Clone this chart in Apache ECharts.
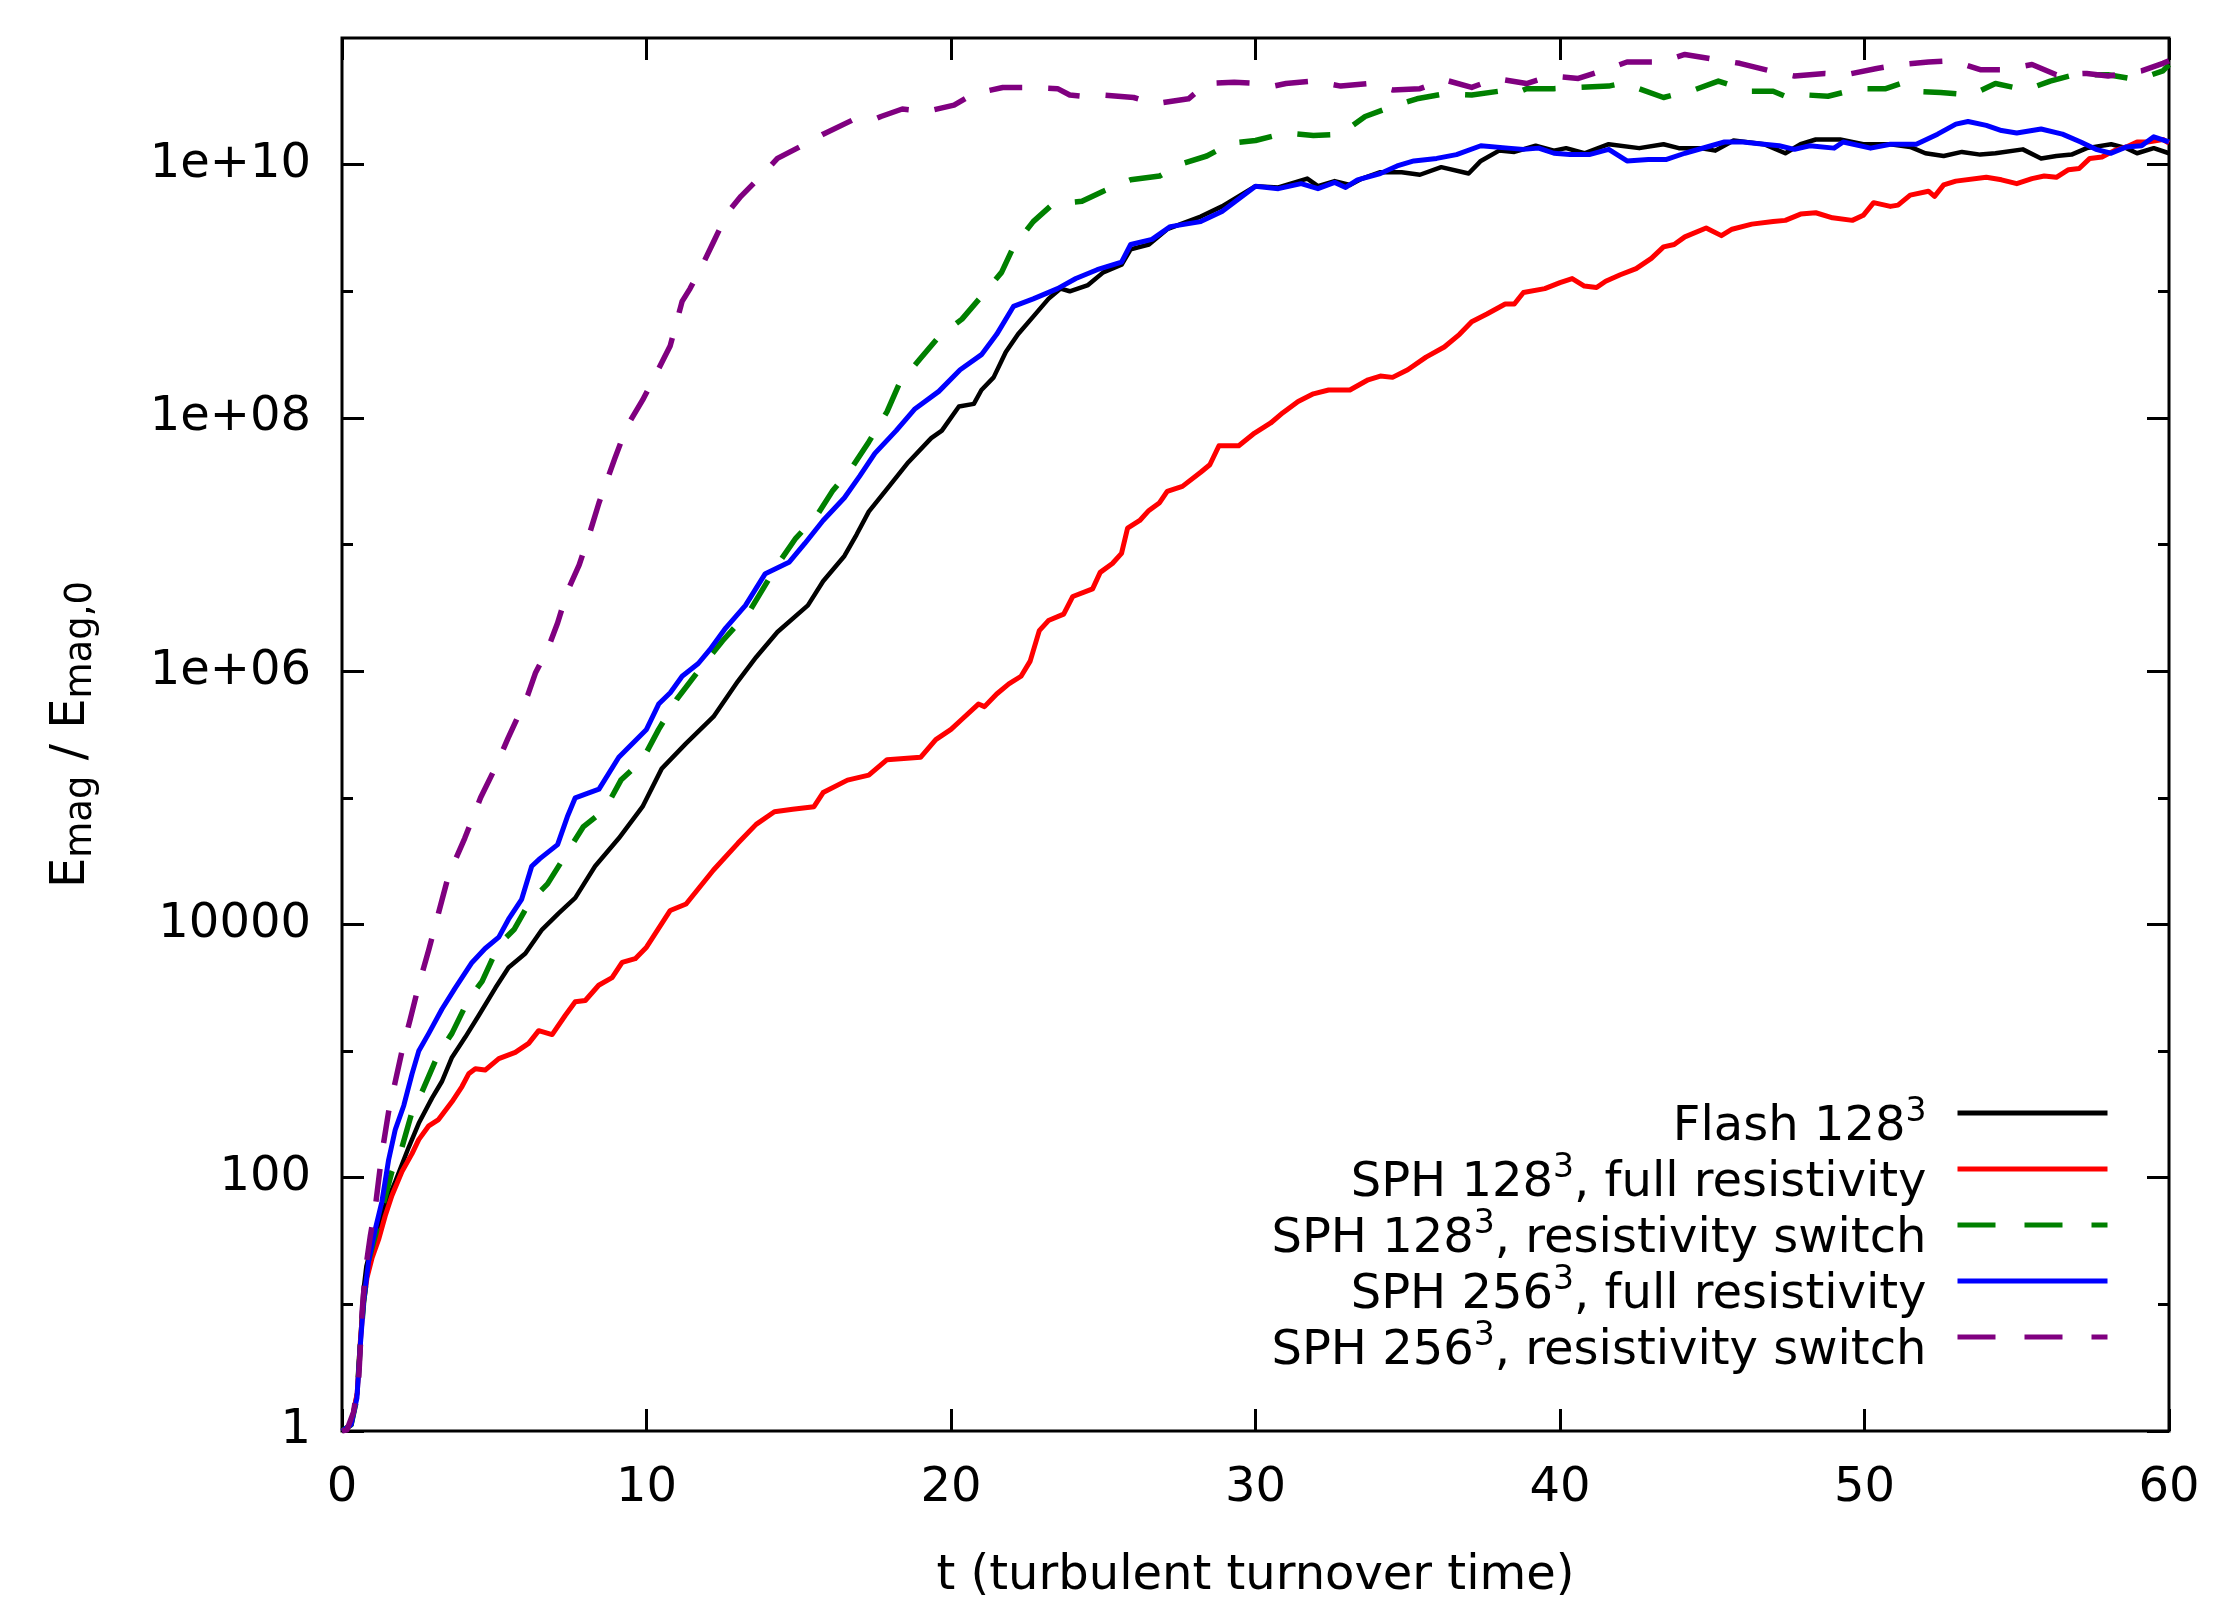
<!DOCTYPE html>
<html>
<head>
<meta charset="utf-8">
<script src="https://cdn.jsdelivr.net/npm/echarts@6/dist/echarts.min.js"></script>
<style>
html,body{margin:0;padding:0;background:#fff;}
#chart{width:2226px;height:1618px;}
</style>
</head>
<body>
<div id="chart"></div>
<script>
// ---------------- data ----------------
const seriesNames = ['Flash 128³', 'SPH 128³, full resistivity', 'SPH 128³, resistivity switch', 'SPH 256³, full resistivity', 'SPH 256³, resistivity switch'];
const seriesColors = ['#000000', '#ff0000', '#008000', '#0000ff', '#800080'];

const xTickValues = [0, 10, 20, 30, 40, 50, 60];
const xTickLabels = ['0', '10', '20', '30', '40', '50', '60'];
const yMajorValues = [1, 100, 1e4, 1e6, 1e8, 1e10];
const yMajorLabels = ['1', '100', '10000', '1e+06', '1e+08', '1e+10'];
const yMinorValues = [10, 1e3, 1e5, 1e7, 1e9];

const flashT = [0,0.3,0.5,0.6,0.7,0.8,0.99,1.42,1.75,2.19,2.52,2.96,3.28,3.61,4.05,4.49,5.04,5.47,6.02,6.57,7.12,7.66,8.31,9.09,9.87,10.5,11.3,12.2,13.0,13.6,14.3,15.3,15.8,16.5,16.9,17.3,17.9,18.6,19.35,19.7,20.26,20.75,21.0,21.4,21.8,22.2,22.7,23.2,23.6,23.9,24.5,25.0,25.6,25.9,26.5,27.1,28.2,28.9,30.0,30.75,31.7,32.05,32.6,33.1,33.5,34.1,34.8,35.4,36.1,37.0,37.4,38.0,38.5,39.2,39.8,40.2,40.8,41.6,42.6,43.4,43.9,44.6,45.1,45.7,46.7,47.4,47.9,48.4,49.2,49.96,50.85,51.5,52.0,52.6,53.2,53.8,54.3,55.2,55.8,56.3,56.8,57.3,58.1,58.6,58.95,59.5,60];
const flashV = [1,1.12,2.0,5.01,12.6,20.0,30.2,60.3,93.3,174,269,427,575,891,1290,1910,3160,4570,5890,9120,1.23e4,1.62e4,2.88e4,4.79e4,8.51e4,1.70e5,2.69e5,4.37e5,8.32e5,1.29e6,2.04e6,3.31e6,5.13e6,8.13e6,1.20e7,1.82e7,2.75e7,4.47e7,6.92e7,7.94e7,1.23e8,1.29e8,1.66e8,2.09e8,3.31e8,4.57e8,6.31e8,8.71e8,1.05e9,1.00e9,1.12e9,1.41e9,1.62e9,2.14e9,2.34e9,3.09e9,3.89e9,4.68e9,6.76e9,6.61e9,7.76e9,6.76e9,7.41e9,6.92e9,7.76e9,8.71e9,8.71e9,8.32e9,9.55e9,8.51e9,1.07e10,1.29e10,1.26e10,1.41e10,1.29e10,1.35e10,1.23e10,1.45e10,1.35e10,1.45e10,1.35e10,1.35e10,1.29e10,1.55e10,1.45e10,1.23e10,1.45e10,1.58e10,1.58e10,1.45e10,1.45e10,1.38e10,1.23e10,1.17e10,1.26e10,1.20e10,1.23e10,1.32e10,1.12e10,1.17e10,1.20e10,1.35e10,1.45e10,1.35e10,1.23e10,1.35e10,1.23e10];

const sph128FullT = [0,0.3,0.5,0.6,0.7,0.82,0.99,1.2,1.42,1.64,1.97,2.3,2.52,2.85,3.17,3.61,3.94,4.16,4.38,4.7,5.15,5.69,6.13,6.46,6.9,7.33,7.66,7.99,8.43,8.87,9.2,9.63,10.0,10.78,11.3,12.2,13.0,13.6,14.2,14.8,15.5,15.8,16.6,17.3,17.9,19.0,19.5,20.0,20.36,20.9,21.1,21.5,21.9,22.3,22.6,22.9,23.2,23.7,24.0,24.65,24.9,25.3,25.6,25.8,26.2,26.5,26.85,27.1,27.6,28.2,28.5,28.8,29.45,29.97,30.5,30.9,31.4,31.9,32.4,33.1,33.7,34.1,34.5,35.0,35.6,36.2,36.7,37.1,37.6,38.2,38.5,38.8,39.5,40.0,40.4,40.8,41.2,41.5,41.98,42.5,43.0,43.4,43.75,44.1,44.8,45.3,45.65,46.3,47.0,47.4,47.9,48.4,48.95,49.6,49.96,50.3,50.85,51.1,51.5,52.1,52.3,52.6,53.0,54.0,54.5,55.0,55.5,55.9,56.3,56.7,57.05,57.4,57.8,58.2,58.6,58.95,59.3,59.8,60];
const sph128FullV = [1,1.12,2.0,5.01,10,16.2,23.4,32.4,50.1,72.4,112,155,200,257,288,398,525,661,724,708,871,977,1150,1450,1350,1910,2450,2510,3310,3800,5010,5370,6610,1.29e4,1.45e4,2.69e4,4.37e4,6.17e4,7.76e4,8.13e4,8.51e4,1.10e5,1.38e5,1.51e5,2.00e5,2.09e5,2.88e5,3.47e5,4.17e5,5.50e5,5.25e5,6.61e5,7.94e5,9.12e5,1.20e6,2.09e6,2.51e6,2.82e6,3.89e6,4.47e6,6.03e6,7.08e6,8.51e6,1.35e7,1.55e7,1.86e7,2.14e7,2.63e7,2.88e7,3.72e7,4.27e7,6.03e7,6.03e7,7.59e7,9.12e7,1.10e8,1.35e8,1.55e8,1.66e8,1.66e8,2.00e8,2.14e8,2.09e8,2.40e8,3.02e8,3.63e8,4.57e8,5.75e8,6.61e8,7.94e8,7.94e8,9.77e8,1.05e9,1.17e9,1.26e9,1.10e9,1.07e9,1.20e9,1.35e9,1.51e9,1.82e9,2.24e9,2.34e9,2.69e9,3.16e9,2.75e9,3.09e9,3.39e9,3.55e9,3.63e9,4.07e9,4.17e9,3.80e9,3.63e9,3.98e9,5.01e9,4.68e9,4.79e9,5.75e9,6.17e9,5.62e9,6.92e9,7.41e9,7.94e9,7.59e9,7.08e9,7.76e9,8.13e9,7.94e9,9.12e9,9.33e9,1.12e10,1.15e10,1.29e10,1.38e10,1.51e10,1.51e10,1.58e10,1.48e10];

const sph128SwitchT = [0,0.3,0.49,0.6,0.71,0.88,1.1,1.31,1.64,1.97,2.3,2.63,3.17,3.61,4.16,4.6,5.15,5.65,6.17,6.75,7.4,7.92,8.64,9.16,9.87,10.4,11.0,11.7,12.5,13.4,14.3,14.9,15.6,16.1,16.75,17.3,17.9,18.3,18.96,19.6,20.36,21.0,21.66,22.05,22.7,23.35,24.3,25.0,25.9,26.85,27.6,28.4,29.2,30.0,31.0,31.9,32.8,33.6,34.5,35.3,36.2,37.1,38.0,38.5,38.9,39.8,40.6,41.6,42.0,42.6,43.4,44.4,45.2,46.2,47.0,47.5,48.1,48.8,49.8,50.7,51.2,51.6,52.5,53.5,54.3,55.3,56.1,56.9,58.0,58.95,59.8,60];
const sph128SwitchV = [1,1.12,1.82,4.68,10.5,22.4,35.5,56.2,112,174,331,479,955,1380,2570,3550,6920,9120,1.51e4,2.09e4,3.72e4,5.89e4,8.13e4,1.38e5,2.00e5,3.47e5,6.03e5,1.00e6,1.74e6,3.02e6,6.92e6,1.12e7,1.70e7,2.63e7,4.07e7,6.46e7,1.12e8,1.86e8,2.88e8,4.37e8,6.03e8,9.12e8,1.41e9,2.24e9,3.55e9,4.90e9,5.13e9,6.17e9,7.59e9,8.13e9,1.02e10,1.17e10,1.48e10,1.55e10,1.78e10,1.70e10,1.74e10,2.40e10,2.88e10,3.31e10,3.63e10,3.55e10,3.80e10,3.63e10,3.98e10,3.98e10,4.07e10,4.17e10,4.37e10,3.98e10,3.39e10,3.89e10,4.57e10,3.80e10,3.80e10,3.39e10,3.55e10,3.47e10,3.98e10,3.98e10,4.37e10,3.80e10,3.72e10,3.55e10,4.37e10,3.89e10,4.57e10,5.13e10,5.13e10,4.68e10,5.50e10,6.17e10];

const sph256FullT = [0,0.3,0.49,0.6,0.71,0.88,1.09,1.31,1.53,1.75,2.03,2.3,2.52,2.85,3.28,3.72,4.27,4.7,5.15,5.47,5.9,6.23,6.5,7.08,7.4,7.66,8.44,9.09,10.0,10.4,10.78,11.17,11.7,12.08,12.6,13.25,13.9,14.68,15.2,15.8,16.5,17.0,17.5,18.2,18.8,19.6,20.3,21.0,21.5,22.05,22.7,23.5,24.1,24.8,25.6,25.9,26.6,27.2,28.2,28.9,30.0,30.75,31.5,32.05,32.6,32.96,33.35,34.1,34.65,35.2,35.95,36.6,37.4,38.3,38.8,39.3,39.8,40.33,40.96,41.6,42.2,42.9,43.5,44.1,45.4,46.0,46.7,47.2,47.7,48.2,49.0,49.3,50.2,50.85,51.7,52.4,53.0,53.4,54.0,54.5,55.0,55.8,56.5,57.1,57.6,58.1,58.6,59.1,59.5,60];
const sph256FullV = [1,1.12,1.82,4.68,10.5,22.4,38.9,64.6,138,240,372,661,1000,1380,2140,3160,5010,6460,7940,1.10e4,1.58e4,2.88e4,3.31e4,4.27e4,7.08e4,1.00e5,1.17e5,2.09e5,3.47e5,5.50e5,6.76e5,9.12e5,1.15e6,1.48e6,2.19e6,3.31e6,5.89e6,7.24e6,1.02e7,1.55e7,2.34e7,3.47e7,5.25e7,7.94e7,1.17e8,1.62e8,2.40e8,3.16e8,4.57e8,7.59e8,8.71e8,1.05e9,1.26e9,1.48e9,1.70e9,2.34e9,2.57e9,3.24e9,3.55e9,4.27e9,6.76e9,6.46e9,7.08e9,6.46e9,7.24e9,6.61e9,7.59e9,8.51e9,9.77e9,1.07e10,1.12e10,1.20e10,1.41e10,1.35e10,1.32e10,1.35e10,1.23e10,1.20e10,1.20e10,1.32e10,1.07e10,1.10e10,1.10e10,1.23e10,1.51e10,1.51e10,1.45e10,1.41e10,1.32e10,1.41e10,1.35e10,1.51e10,1.35e10,1.45e10,1.45e10,1.74e10,2.09e10,2.19e10,2.04e10,1.86e10,1.78e10,1.91e10,1.74e10,1.51e10,1.32e10,1.23e10,1.38e10,1.41e10,1.66e10,1.51e10];

const sph256SwitchT = [0,0.16,0.38,0.55,0.66,0.77,0.93,1.1,1.31,1.53,1.75,1.97,2.24,2.52,2.85,3.17,3.5,4.03,4.55,5.06,5.45,6.1,6.36,6.75,7.08,7.4,7.79,8.12,8.44,8.96,9.35,9.87,10.26,10.78,11.17,11.43,11.82,12.2,12.66,13.1,13.8,14.3,15.2,15.8,16.75,17.4,17.7,18.4,19.2,20.1,20.75,21.7,22.6,23.5,23.9,24.3,25.0,26.0,26.7,27.8,28.4,29.3,30.1,30.6,31.0,31.9,32.8,33.7,34.5,35.4,36.2,37.1,37.9,38.9,39.7,40.6,41.5,42.2,43.3,44.1,45.1,45.9,46.9,47.7,48.7,49.4,50.4,51.2,52.1,52.9,53.8,54.6,55.5,56.3,57.3,58.0,59.1,59.8,60];
const sph256SwitchV = [1,1.02,1.41,2.63,8.71,18.6,34.7,60.3,155,331,575,1000,1780,3310,6310,1.23e4,2.45e4,4.79e4,1.00e5,1.78e5,2.95e5,6.46e5,9.77e5,1.48e6,2.40e6,4.27e6,6.92e6,1.20e7,2.14e7,4.79e7,8.51e7,1.38e8,2.09e8,3.72e8,8.32e8,1.05e9,1.58e9,2.45e9,4.17e9,5.62e9,8.32e9,1.12e10,1.45e10,1.74e10,2.24e10,2.24e10,2.40e10,2.75e10,2.63e10,2.95e10,3.63e10,4.07e10,4.07e10,3.98e10,3.55e10,3.47e10,3.55e10,3.39e10,3.02e10,3.31e10,4.37e10,4.47e10,4.37e10,4.17e10,4.37e10,4.57e10,4.17e10,4.37e10,3.89e10,3.98e10,4.68e10,4.07e10,4.79e10,4.37e10,5.01e10,4.79e10,5.62e10,6.46e10,6.46e10,7.41e10,6.76e10,6.31e10,5.50e10,5.01e10,5.25e10,5.13e10,5.75e10,6.17e10,6.46e10,6.61e10,5.62e10,5.62e10,6.17e10,5.13e10,5.25e10,5.01e10,5.50e10,6.31e10,6.61e10];

// ---------------- chart ----------------
const FONT = 'DejaVu Sans';
const tArrays = [flashT, sph128FullT, sph128SwitchT, sph256FullT, sph256SwitchT];
const vArrays = [flashV, sph128FullV, sph128SwitchV, sph256FullV, sph256SwitchV];
const dashed = [false, false, true, false, true];
const widths = [4.5, 5, 5.5, 5, 5.5];
const DASH = [33, 26];

function zip(t, v) {
  const n = Math.min(t.length, v.length);
  const out = [];
  for (let i = 0; i < n; i++) out.push([t[i], v[i]]);
  return out;
}

function yLabel(v) {
  for (let i = 0; i < yMajorValues.length; i++) {
    if (Math.abs(Math.log10(yMajorValues[i]) - Math.log10(v)) < 1e-6) return yMajorLabels[i];
  }
  return '';
}

const tickStyle = {color: '#000', width: 3};

function makeY(position, major, withLabel) {
  const ax = {
    type: 'log', logBase: 10, min: 1, max: 1e11, position: position, offset: 0,
    axisLine: {show: false},
    splitLine: {show: false},
    axisTick: {show: true, inside: true, length: major ? 22 : 11, lineStyle: tickStyle,
               customValues: major ? yMajorValues : yMinorValues},
    axisLabel: {show: withLabel}
  };
  if (withLabel) {
    ax.axisLabel = {show: true, customValues: yMajorValues, margin: 31, color: '#000',
      fontSize: 48, fontFamily: FONT, formatter: yLabel};
    ax.name = 'E{sub|mag} / E{sub|mag,0}';
    ax.nameLocation = 'middle';
    ax.nameGap = 242;
    ax.nameRotate = 90;
    ax.nameTextStyle = {
      color: '#000', fontFamily: FONT, fontSize: 48,
      rich: {
        sub: {fontSize: 37, fontFamily: FONT, color: '#000', verticalAlign: 'top', padding: [19, 0, 0, 0]},
      }
    };
  }
  return ax;
}

const series = seriesNames.map((name, i) => ({
  name: name,
  type: 'line',
  data: zip(tArrays[i], vArrays[i]),
  xAxisIndex: 0, yAxisIndex: 0,
  symbol: 'none', showSymbol: false,
  smooth: false,
  color: seriesColors[i],
  itemStyle: {color: seriesColors[i]},
  lineStyle: {color: seriesColors[i], width: widths[i], type: dashed[i] ? DASH : 'solid', cap: 'butt', join: 'round'},
  emphasis: {disabled: true},
  silent: true,
  z: 2 + i
}));

const legendData = seriesNames.map((name, i) => ({
  name: name,
  itemStyle: {opacity: 0, borderWidth: 0},
  lineStyle: {color: seriesColors[i], width: 5, type: dashed[i] ? [38, 29] : 'solid', cap: 'butt', opacity: 1}
}));

const chart = echarts.init(document.getElementById('chart'), null, {renderer: 'canvas', width: 2226, height: 1618});
chart.setOption({
  animation: false,
  backgroundColor: '#ffffff',
  grid: {left: 342, right: 57, top: 38, bottom: 187, show: true, borderColor: '#000', borderWidth: 3, backgroundColor: 'rgba(0,0,0,0)', containLabel: false},
  legend: {
    show: true,
    data: legendData,
    orient: 'vertical',
    right: 116, top: 1096,
    align: 'right',
    padding: 0,
    itemGap: 0,
    itemWidth: 150,
    itemHeight: 12,
    selectedMode: false,
    formatter: function (name) {
      const parts = name.split('³');
      return '{b|' + parts[0] + '}{sup|3}' + (parts[1] ? '{b|' + parts[1] + '}' : '');
    },
    textStyle: {
      color: '#000', fontFamily: FONT, fontSize: 48, padding: [0, 26, 0, 0],
      rich: {
        b: {fontSize: 48, fontFamily: FONT, color: '#000', verticalAlign: 'top', padding: [30, 0, 0, 0]},
        sup: {fontSize: 33, fontFamily: FONT, color: '#000', verticalAlign: 'top', padding: [22, 0, 0, 0]}
      }
    }
  },
  xAxis: [
    {type: 'value', min: 0, max: 60, interval: 10, position: 'bottom',
     axisLine: {show: false}, splitLine: {show: false},
     axisTick: {show: true, inside: true, length: 22, lineStyle: tickStyle},
     axisLabel: {show: true, margin: 34, color: '#000', fontSize: 48, fontFamily: FONT,
       formatter: function (v) { const i = xTickValues.indexOf(v); return i >= 0 ? xTickLabels[i] : ''; }},
     name: 't (turbulent turnover time)', nameLocation: 'middle', nameGap: 122,
     nameTextStyle: {color: '#000', fontSize: 48, fontFamily: FONT}},
    {type: 'value', min: 0, max: 60, interval: 10, position: 'top',
     axisLine: {show: false}, splitLine: {show: false},
     axisTick: {show: true, inside: true, length: 22, lineStyle: tickStyle},
     axisLabel: {show: false}}
  ],
  yAxis: [
    makeY('left', true, true),
    makeY('left', false, false),
    makeY('right', true, false),
    makeY('right', false, false)
  ],
  series: series
});
</script>
</body>
</html>
